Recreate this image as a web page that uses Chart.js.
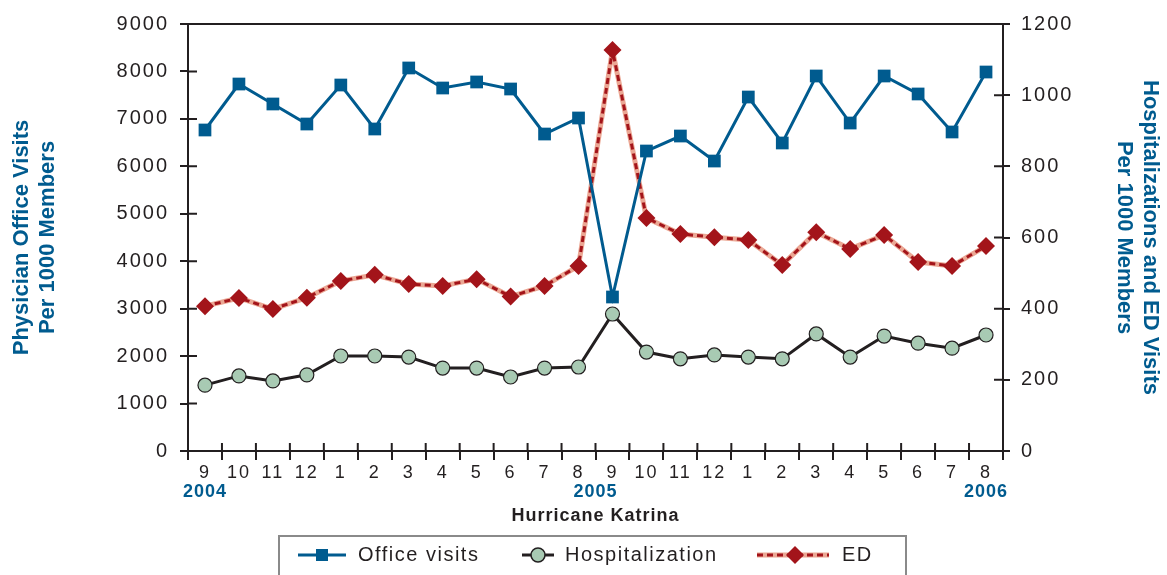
<!DOCTYPE html>
<html>
<head>
<meta charset="utf-8">
<script src="https://cdn.jsdelivr.net/npm/chart.js@4.4.0/dist/chart.umd.min.js"></script>
<style>
  html, body { margin: 0; padding: 0; background: #fff; }
</style>
</head>
<body>
<canvas id="mycanvas" width="1167" height="575"></canvas>
<script>
// months Sep 2004 .. Aug 2006
var months = ['9','10','11','12','1','2','3','4','5','6','7','8','9','10','11','12','1','2','3','4','5','6','7','8'];
var officeVisits = [6766,7735,7314,6892,7714,6787,8073,7651,7778,7630,6681,7019,3246,6323,6639,6112,7461,6492,7904,6913,7904,7525,6724,7988];
var hospitalization = [185,211,197,214,267,267,264,233,233,208,233,236,385,278,259,270,264,259,329,264,323,303,289,326];
var edVisits = [407,430,399,431,478,495,469,464,483,434,464,520,1127,655,610,601,593,523,615,568,607,531,520,576];
var leftMax = 9000, leftStep = 1000;
var rightMax = 1200, rightStep = 200;
var yearLabels = ['2004', '2005', '2006'];
var legendNames = ['Office visits', 'Hospitalization', 'ED'];

var BLUE = '#005b8f', RED = '#a3141a', SALMON = '#eba794', GREEN = '#a8cab3', INK = '#231f20';
var FONT = "'Liberation Sans', Arial, sans-serif";
var TICK_SPACING = '2px';

var extras = {
  id: 'extras',
  beforeUpdate: function(chart) { chart.ctx.letterSpacing = TICK_SPACING; },
  afterLayout: function(chart) {
    // axis titles are drawn without the extra tick letter spacing
    ['y', 'y1'].forEach(function(id) {
      var s = chart.scales[id];
      if (s && !s._tightTitle) {
        var orig = s.drawTitle;
        s.drawTitle = function() {
          var c = this.ctx, prev = c.letterSpacing;
          c.letterSpacing = '0px';
          orig.apply(this, arguments);
          c.letterSpacing = prev;
        };
        s._tightTitle = true;
      }
    });
  },
  beforeDraw: function(chart) { chart.ctx.letterSpacing = TICK_SPACING; },
  afterDraw: function(chart) {
    var ctx = chart.ctx, a = chart.chartArea;
    var xs = chart.scales.x;
    var step = xs.getPixelForValue(1) - xs.getPixelForValue(0);
    ctx.save();
    ctx.strokeStyle = INK;
    ctx.lineWidth = 2;
    // top frame line
    ctx.beginPath();
    ctx.moveTo(a.left - 8, a.top);
    ctx.lineTo(a.right + 7, a.top);
    ctx.stroke();
    // inner tick stubs
    ctx.beginPath();
    for (var v = 0; v <= leftMax; v += leftStep) {
      var y = chart.scales.y.getPixelForValue(v);
      ctx.moveTo(a.left, y); ctx.lineTo(a.left + 9, y);
    }
    for (var r = 0; r <= rightMax; r += rightStep) {
      var y2 = chart.scales.y1.getPixelForValue(r);
      ctx.moveTo(a.right, y2); ctx.lineTo(a.right - 9, y2);
    }
    for (var i = 0; i <= months.length; i++) {
      var bx = xs.getPixelForValue(0) - step / 2 + i * step;
      ctx.moveTo(bx, a.bottom); ctx.lineTo(bx, a.bottom - 8);
    }
    ctx.stroke();

    // year labels
    ctx.letterSpacing = '1px';
    ctx.font = 'bold 18px ' + FONT;
    ctx.fillStyle = BLUE;
    ctx.textAlign = 'center';
    ctx.textBaseline = 'middle';
    var mid = xs.getPixelForValue(12) - step / 2;
    ctx.fillText(yearLabels[0], xs.getPixelForValue(0), 492);
    ctx.fillText(yearLabels[1], mid, 492);
    ctx.fillText(yearLabels[2], xs.getPixelForValue(23), 492);
    ctx.fillStyle = INK;
    ctx.fillText('Hurricane Katrina', mid, 516);

    // legend
    ctx.strokeStyle = '#8a8a8a';
    ctx.lineWidth = 2;
    ctx.strokeRect(279, 536, 627, 60);
    ctx.letterSpacing = '1.5px';
    ctx.font = '20px ' + FONT;
    ctx.textAlign = 'left';
    ctx.fillStyle = INK;
    var ly = 555;
    // office visits
    ctx.strokeStyle = BLUE; ctx.lineWidth = 3;
    ctx.beginPath(); ctx.moveTo(298, ly); ctx.lineTo(346, ly); ctx.stroke();
    ctx.fillStyle = BLUE; ctx.fillRect(316, ly - 6, 12, 12);
    ctx.fillStyle = INK; ctx.fillText(legendNames[0], 358, ly);
    // hospitalization
    ctx.strokeStyle = INK; ctx.lineWidth = 3;
    ctx.beginPath(); ctx.moveTo(522, ly); ctx.lineTo(554, ly); ctx.stroke();
    ctx.beginPath(); ctx.arc(538, ly, 7, 0, Math.PI * 2);
    ctx.fillStyle = GREEN; ctx.fill(); ctx.lineWidth = 1.5; ctx.stroke();
    ctx.fillStyle = INK; ctx.fillText(legendNames[1], 565, ly);
    // ED
    ctx.strokeStyle = SALMON; ctx.lineWidth = 5;
    ctx.beginPath(); ctx.moveTo(757, ly); ctx.lineTo(829, ly); ctx.stroke();
    ctx.strokeStyle = RED; ctx.lineWidth = 3; ctx.setLineDash([6, 4]);
    ctx.beginPath(); ctx.moveTo(757, ly); ctx.lineTo(829, ly); ctx.stroke();
    ctx.setLineDash([]);
    ctx.fillStyle = RED;
    ctx.beginPath(); ctx.moveTo(795, ly - 9); ctx.lineTo(804, ly); ctx.lineTo(795, ly + 9); ctx.lineTo(786, ly); ctx.closePath(); ctx.fill();
    ctx.fillStyle = INK; ctx.fillText(legendNames[2], 842, ly);
    ctx.restore();
  }
};

function plain(v) { return String(v); }

var tickFont = { family: FONT, size: 20 };
var titleFont = { family: FONT, size: 22, weight: 'bold', lineHeight: 1.18 };
var ctx = document.getElementById('mycanvas');
var chart = new Chart(ctx, {
  type: 'line',
  data: {
    labels: months,
    datasets: [
      {
        label: 'Office visits',
        data: officeVisits,
        yAxisID: 'y',
        borderColor: BLUE,
        backgroundColor: BLUE,
        borderWidth: 3,
        pointStyle: 'rect',
        pointRadius: 9,
        pointBorderWidth: 0,
        tension: 0
      },
      {
        label: 'Hospitalization',
        data: hospitalization,
        yAxisID: 'y1',
        borderColor: INK,
        backgroundColor: GREEN,
        borderWidth: 3,
        pointStyle: 'circle',
        pointRadius: 7,
        pointBorderColor: INK,
        pointBorderWidth: 1.2,
        tension: 0
      },
      {
        label: 'ED',
        data: edVisits,
        yAxisID: 'y1',
        borderColor: RED,
        backgroundColor: RED,
        borderWidth: 3,
        borderDash: [6, 4],
        borderJoinStyle: 'round',
        pointStyle: 'rectRot',
        pointRadius: 9,
        pointBorderWidth: 0,
        tension: 0
      },
      {
        label: 'ED base',
        data: edVisits,
        yAxisID: 'y1',
        borderColor: SALMON,
        borderWidth: 5,
        borderJoinStyle: 'round',
        pointRadius: 0,
        tension: 0
      }
    ]
  },
  options: {
    responsive: false,
    animation: false,
    layout: { padding: { top: 24, left: 0, right: 0, bottom: 0 } },
    plugins: { legend: { display: false }, tooltip: { enabled: false } },
    scales: {
      x: {
        type: 'category',
        offset: true,
        grid: { offset: true, drawOnChartArea: false, tickLength: 9, color: INK, lineWidth: 2 },
        border: { color: INK, width: 2 },
        ticks: { color: INK, font: { family: FONT, size: 18 }, padding: 2, maxRotation: 0, autoSkip: false },
        afterFit: function(s) { s.height = 124; }
      },
      y: {
        position: 'left',
        min: 0, max: leftMax,
        grid: { drawOnChartArea: false, tickLength: 8, color: INK, lineWidth: 2 },
        border: { color: INK, width: 2 },
        ticks: { stepSize: leftStep, color: INK, font: tickFont, padding: 11, callback: plain },
        title: {
          display: true,
          text: ['Physician Office Visits', 'Per 1000 Members'],
          color: BLUE,
          font: titleFont,
          padding: { top: 9, bottom: 0 }
        },
        afterFit: function(s) { s.width = 188; }
      },
      y1: {
        position: 'right',
        min: 0, max: rightMax,
        grid: { drawOnChartArea: false, tickLength: 7, color: INK, lineWidth: 2 },
        border: { color: INK, width: 2 },
        ticks: { stepSize: rightStep, color: INK, font: tickFont, padding: 11, callback: plain },
        title: {
          display: true,
          text: ['Hospitalizations and ED Visits', 'Per 1000 Members'],
          color: BLUE,
          font: titleFont,
          padding: { top: 4, bottom: 0 }
        },
        afterFit: function(s) { s.width = 164; }
      }
    }
  },
  plugins: [extras]
});
</script>
</body>
</html>
